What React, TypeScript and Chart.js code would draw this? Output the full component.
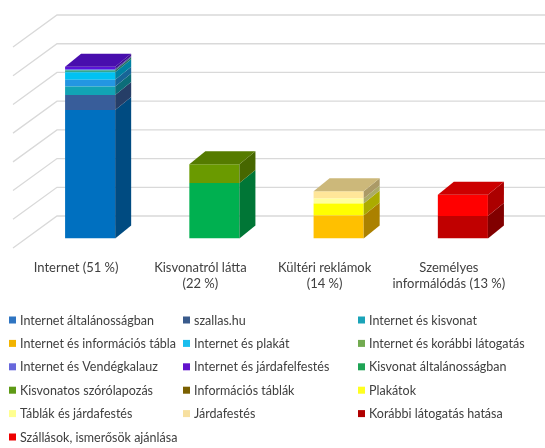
import React, { useEffect, useRef } from 'react';
import { Chart, registerables } from 'chart.js';

Chart.register(...registerables);

// ---------- DATA ----------
const categories: string[][] = [
  ['Internet (51 %)'],
  ['Kisvonatról látta', '(22 %)'],
  ['Kültéri reklámok', '(14 %)'],
  ['Személyes', 'informálódás (13 %)'],
];

const internetNames = [
  'Internet általánosságban',
  'szallas.hu',
  'Internet és kisvonat',
  'Internet és információs tábla',
  'Internet és plakát',
  'Internet és korábbi látogatás',
  'Internet és Vendégkalauz',
  'Internet és járdafelfestés',
];
const internetValues = [38.1, 4.5, 2.5, 2.0, 2.2, 0.6, 0.4, 0.7];

const kisvonatNames = ['Kisvonat általánosságban', 'Kisvonatos szórólapozás'];
const kisvonatValues = [16.5, 5.5];

const kulteriNames = ['Információs táblák', 'Plakátok', 'Táblák és járdafestés', 'Járdafestés'];
const kulteriValues = [6.8, 3.6, 1.5, 2.1];

const szemelyesNames = ['Korábbi látogatás hatása', 'Szállások, ismerősök ajánlása'];
const szemelyesValues = [6.7, 6.3];

const wallTicks = [0, 10, 20, 30, 40, 50, 60, 70];

// ---------- STYLES ----------
const barColors = [
  '#0070C0', '#385D9A', '#12A3B5', '#2396E2', '#00C2F2', '#34A88E', '#7474E4', '#5A12D8',
  '#00B050', '#6A9A00',
  '#FFC000', '#FFFF00', '#FFFF9C', '#FFE699',
  '#C00000', '#FF0000',
];
const legendColors = [
  '#2F75C2', '#3A5B8C', '#1AA3B8', '#F2B400', '#1ABEEE', '#72AA50', '#6868DC', '#6212CC',
  '#1FA455', '#5E9A16',
  '#7A6000', '#FFFF20', '#FFFF90', '#F7E0A0',
  '#B00000', '#EE0000',
];

const FONT = 'Lato, "Open Sans", sans-serif';
const TEXT_COLOR = '#404040';
const GRID_COLOR = '#D9D9D9';
const DEPTH_DX = 16;
const DEPTH_DY = -13;
const WALL_DY = -22.5;
const WALL_SCALE = 0.852;
const WALL_LEFT = 57;
const SIDE_DX = -44;
const SIDE_DY = 32;

function shade(hex: string, f: number): string {
  const n = parseInt(hex.slice(1), 16);
  const r = Math.round(((n >> 16) & 255) * f);
  const g = Math.round(((n >> 8) & 255) * f);
  const b = Math.round((n & 255) * f);
  return `rgb(${r},${g},${b})`;
}

const groups = [
  { names: internetNames, values: internetValues },
  { names: kisvonatNames, values: kisvonatValues },
  { names: kulteriNames, values: kulteriValues },
  { names: szemelyesNames, values: szemelyesValues },
];

function buildDatasets() {
  const ds: any[] = [];
  let k = 0;
  groups.forEach((g, gi) => {
    g.names.forEach((name, si) => {
      ds.push({
        label: name,
        data: categories.map((_, ci) => (ci === gi ? g.values[si] : null)),
        backgroundColor: barColors[k],
        borderWidth: 0,
        stack: 's',
        barPercentage: 0.403,
        categoryPercentage: 1,
      });
      k++;
    });
  });
  return ds;
}

const wallPlugin = {
  id: 'wall3d',
  beforeDatasetsDraw(chart: any) {
    const ctx = chart.ctx;
    const ys = chart.scales.y;
    const yZero = ys.getPixelForValue(0);
    ctx.save();
    ctx.strokeStyle = GRID_COLOR;
    ctx.lineWidth = 1.3;
    wallTicks.forEach((v) => {
      const yf = ys.getPixelForValue(v);
      const yb = yZero + WALL_DY + (yf - yZero) * WALL_SCALE;
      ctx.beginPath();
      ctx.moveTo(WALL_LEFT + SIDE_DX, yb + SIDE_DY);
      ctx.lineTo(WALL_LEFT, yb);
      ctx.lineTo(chart.width, yb);
      ctx.stroke();
    });
    ctx.restore();
  },
};

const barsPlugin = {
  id: 'bars3d',
  afterDatasetsDraw(chart: any) {
    const ctx = chart.ctx;
    const topMost: Record<number, { top: number; left: number; right: number; color: string }> = {};
    ctx.save();
    chart.data.datasets.forEach((d: any, di: number) => {
      const meta = chart.getDatasetMeta(di);
      meta.data.forEach((el: any, ci: number) => {
        const v = d.data[ci];
        if (v === null || v === undefined) return;
        const p = el.getProps(['x', 'y', 'base', 'width'], true);
        const left = p.x - p.width / 2;
        const right = p.x + p.width / 2;
        const top = Math.min(p.y, p.base);
        const bottom = Math.max(p.y, p.base);
        ctx.fillStyle = shade(d.backgroundColor, 0.67);
        ctx.beginPath();
        ctx.moveTo(right, top);
        ctx.lineTo(right + DEPTH_DX, top + DEPTH_DY);
        ctx.lineTo(right + DEPTH_DX, bottom + DEPTH_DY);
        ctx.lineTo(right, bottom);
        ctx.closePath();
        ctx.fill();
        if (!topMost[ci] || top < topMost[ci].top) {
          topMost[ci] = { top, left, right, color: d.backgroundColor };
        }
      });
    });
    Object.values(topMost).forEach((t) => {
      ctx.fillStyle = shade(t.color, 0.8);
      ctx.beginPath();
      ctx.moveTo(t.left, t.top);
      ctx.lineTo(t.left + DEPTH_DX, t.top + DEPTH_DY);
      ctx.lineTo(t.right + DEPTH_DX, t.top + DEPTH_DY);
      ctx.lineTo(t.right, t.top);
      ctx.closePath();
      ctx.fill();
    });
    ctx.restore();
  },
};

const LEGEND_COLS = [9, 183, 358];
const LEGEND_ROW0 = 320;
const LEGEND_ROW_H = 23.4;

const legendPlugin = {
  id: 'gridLegend',
  afterDraw(chart: any) {
    const ctx = chart.ctx;
    ctx.save();
    ctx.font = `12.5px ${FONT}`;
    ctx.textBaseline = 'middle';
    ctx.textAlign = 'left';
    chart.data.datasets.forEach((d: any, i: number) => {
      const col = i % 3;
      const row = Math.floor(i / 3);
      const x = LEGEND_COLS[col];
      const y = LEGEND_ROW0 + row * LEGEND_ROW_H;
      ctx.fillStyle = legendColors[i];
      ctx.fillRect(x, y - 3.5, 7, 7);
      ctx.fillStyle = TEXT_COLOR;
      ctx.fillText(d.label, x + 11, y + 0.5);
    });
    ctx.restore();
  },
};

export default function App() {
  const ref = useRef<HTMLCanvasElement | null>(null);
  useEffect(() => {
    document.body.style.margin = '0';
    const canvas = ref.current;
    if (!canvas) return;
    const chart = new Chart(canvas, {
      type: 'bar',
      data: { labels: categories, datasets: buildDatasets() },
      options: {
        responsive: false,
        animation: false,
        devicePixelRatio: 1,
        layout: { padding: { left: 28, right: 20, top: 2.6, bottom: 0 } },
        plugins: { legend: { display: false }, tooltip: { enabled: false }, title: { display: false } },
        scales: {
          x: {
            stacked: true,
            grid: { display: false, drawTicks: false },
            border: { display: false },
            ticks: {
              color: TEXT_COLOR,
              font: { family: FONT, size: 13 },
              padding: 22,
              labelOffset: -14,
              maxRotation: 0,
              autoSkip: false,
            },
            afterFit: (s: any) => {
              s.height = 209.5;
            },
          },
          y: {
            stacked: true,
            display: false,
            min: 0,
            max: 70,
          },
        },
      },
      plugins: [wallPlugin, barsPlugin, legendPlugin],
    });
    return () => chart.destroy();
  }, []);
  return (
    <div style={{ width: 545, height: 448, background: '#fff' }}>
      <canvas ref={ref} width={545} height={448} style={{ display: 'block' }} />
    </div>
  );
}
